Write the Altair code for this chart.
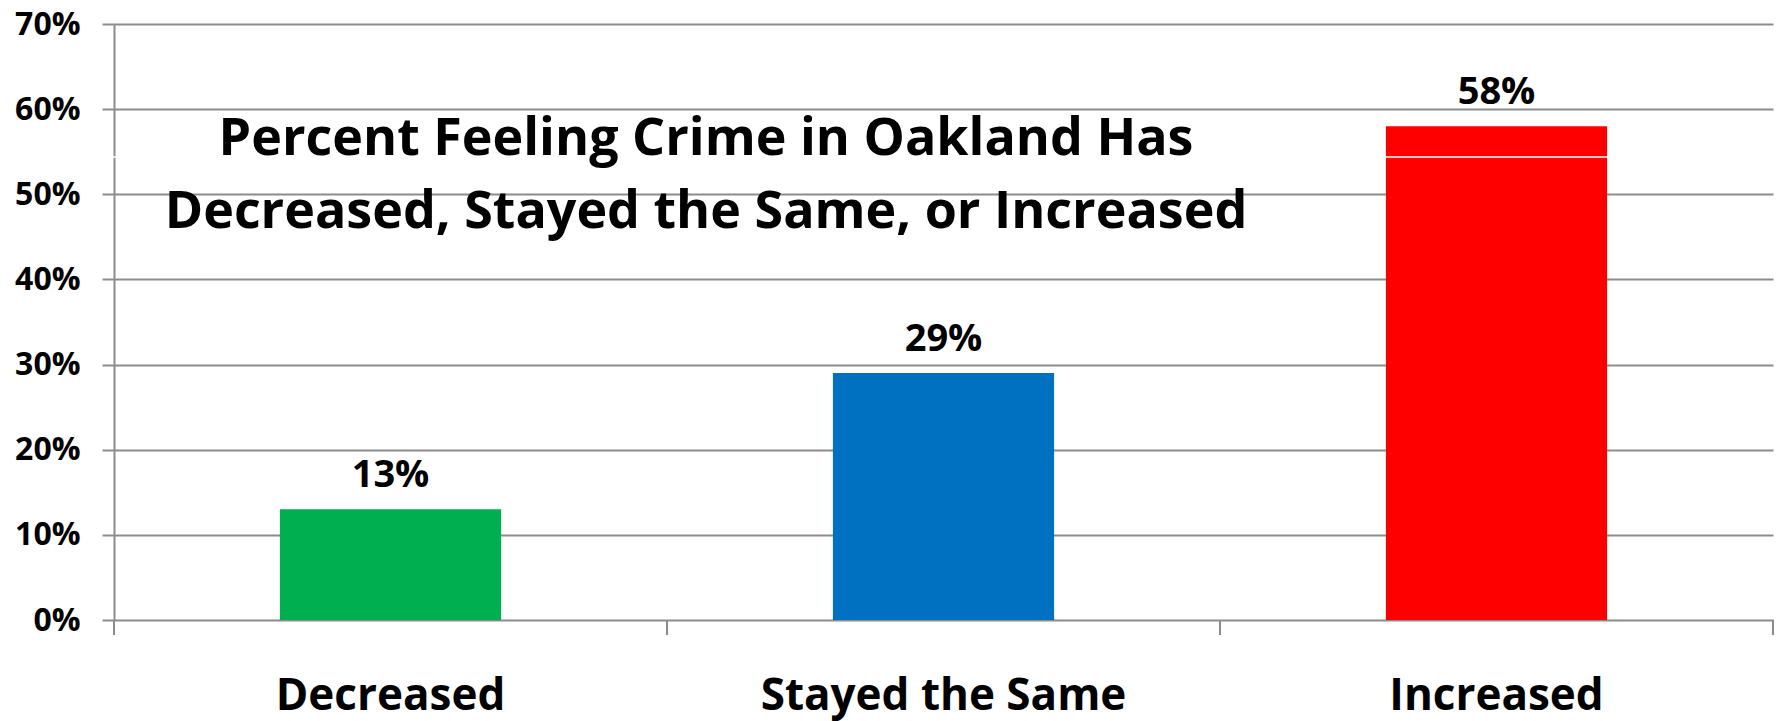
import altair as alt
import pandas as pd

categories = ["Decreased", "Stayed the Same", "Increased"]
values = [13, 29, 58]
colors = ["#00B050", "#0070C0", "#FF0000"]
boundaries = [0, 1, 2, 3]
title_lines = ["Percent Feeling Crime in Oakland Has",
               "Decreased, Stayed the Same, or Increased"]

FONT = "Open Sans"
GRID = "#8c8c8c"

df = pd.DataFrame({"cat": categories, "v": [x / 100 for x in values]})
bdf = pd.DataFrame({"b": boundaries})

x_enc = alt.X(
    "cat:N",
    sort=categories,
    scale=alt.Scale(paddingInner=0.6, paddingOuter=0.3),
    axis=alt.Axis(
        title=None, domain=False, ticks=False, labelAngle=0,
        labelPadding=89, labelBaseline="alphabetic", labelLimit=0,
        labelFont=FONT, labelFontWeight="bold", labelFontSize=44,
        labelColor="black", grid=False,
    ),
)
y_enc = alt.Y(
    "v:Q",
    scale=alt.Scale(domain=[0, 0.7], nice=False),
    axis=alt.Axis(
        title=None, format=".0%", values=[i / 100 for i in range(0, 80, 10)],
        grid=True, gridColor=GRID, gridWidth=2,
        domain=True, domainColor=GRID, domainWidth=2,
        ticks=True, tickColor=GRID, tickWidth=2, tickSize=12,
        labelPadding=22, labelFont=FONT, labelFontWeight="bold",
        labelFontSize=32, labelColor="black",
    ),
)

bars = alt.Chart(df).mark_bar().encode(
    x=x_enc,
    y=y_enc,
    color=alt.Color("cat:N", scale=alt.Scale(domain=categories, range=colors), legend=None),
)

labels = alt.Chart(df).mark_text(
    dy=-22, baseline="alphabetic", font=FONT, fontWeight="bold", fontSize=38, color="black"
).encode(
    x=alt.X("cat:N", sort=categories),
    y=alt.Y("v:Q"),
    text=alt.Text("v:Q", format=".0%"),
)

base_layer = alt.layer(bars, labels)

xticks = alt.Chart(bdf).mark_rule(color=GRID, strokeWidth=2).encode(
    x=alt.X("b:Q", scale=alt.Scale(domain=[0, 3], nice=False), axis=None),
    y=alt.value(596),
    y2=alt.value(611),
)

artifact = alt.Chart(bdf.head(1)).mark_rule(color="white", strokeWidth=1.5).encode(
    x=alt.value(-114), x2=alt.value(1666), y=alt.value(133)
)

title = alt.Chart(bdf.head(1)).mark_text(
    text=title_lines, font=FONT, fontWeight="bold", fontSize=52,
    lineHeight=73, baseline="alphabetic", align="center", color="black",
).encode(x=alt.value(592), y=alt.value(131))

chart = alt.layer(base_layer, xticks, artifact, title).resolve_scale(x="independent").properties(
    width=1659,
    height=596,
    autosize=alt.AutoSizeParams(type="none"),
    padding={"left": 114, "top": 24, "right": 7, "bottom": 101},
    background="white",
).configure_view(stroke=None)

chart.save("out.html", embed_options={"renderer": "svg", "actions": False})
